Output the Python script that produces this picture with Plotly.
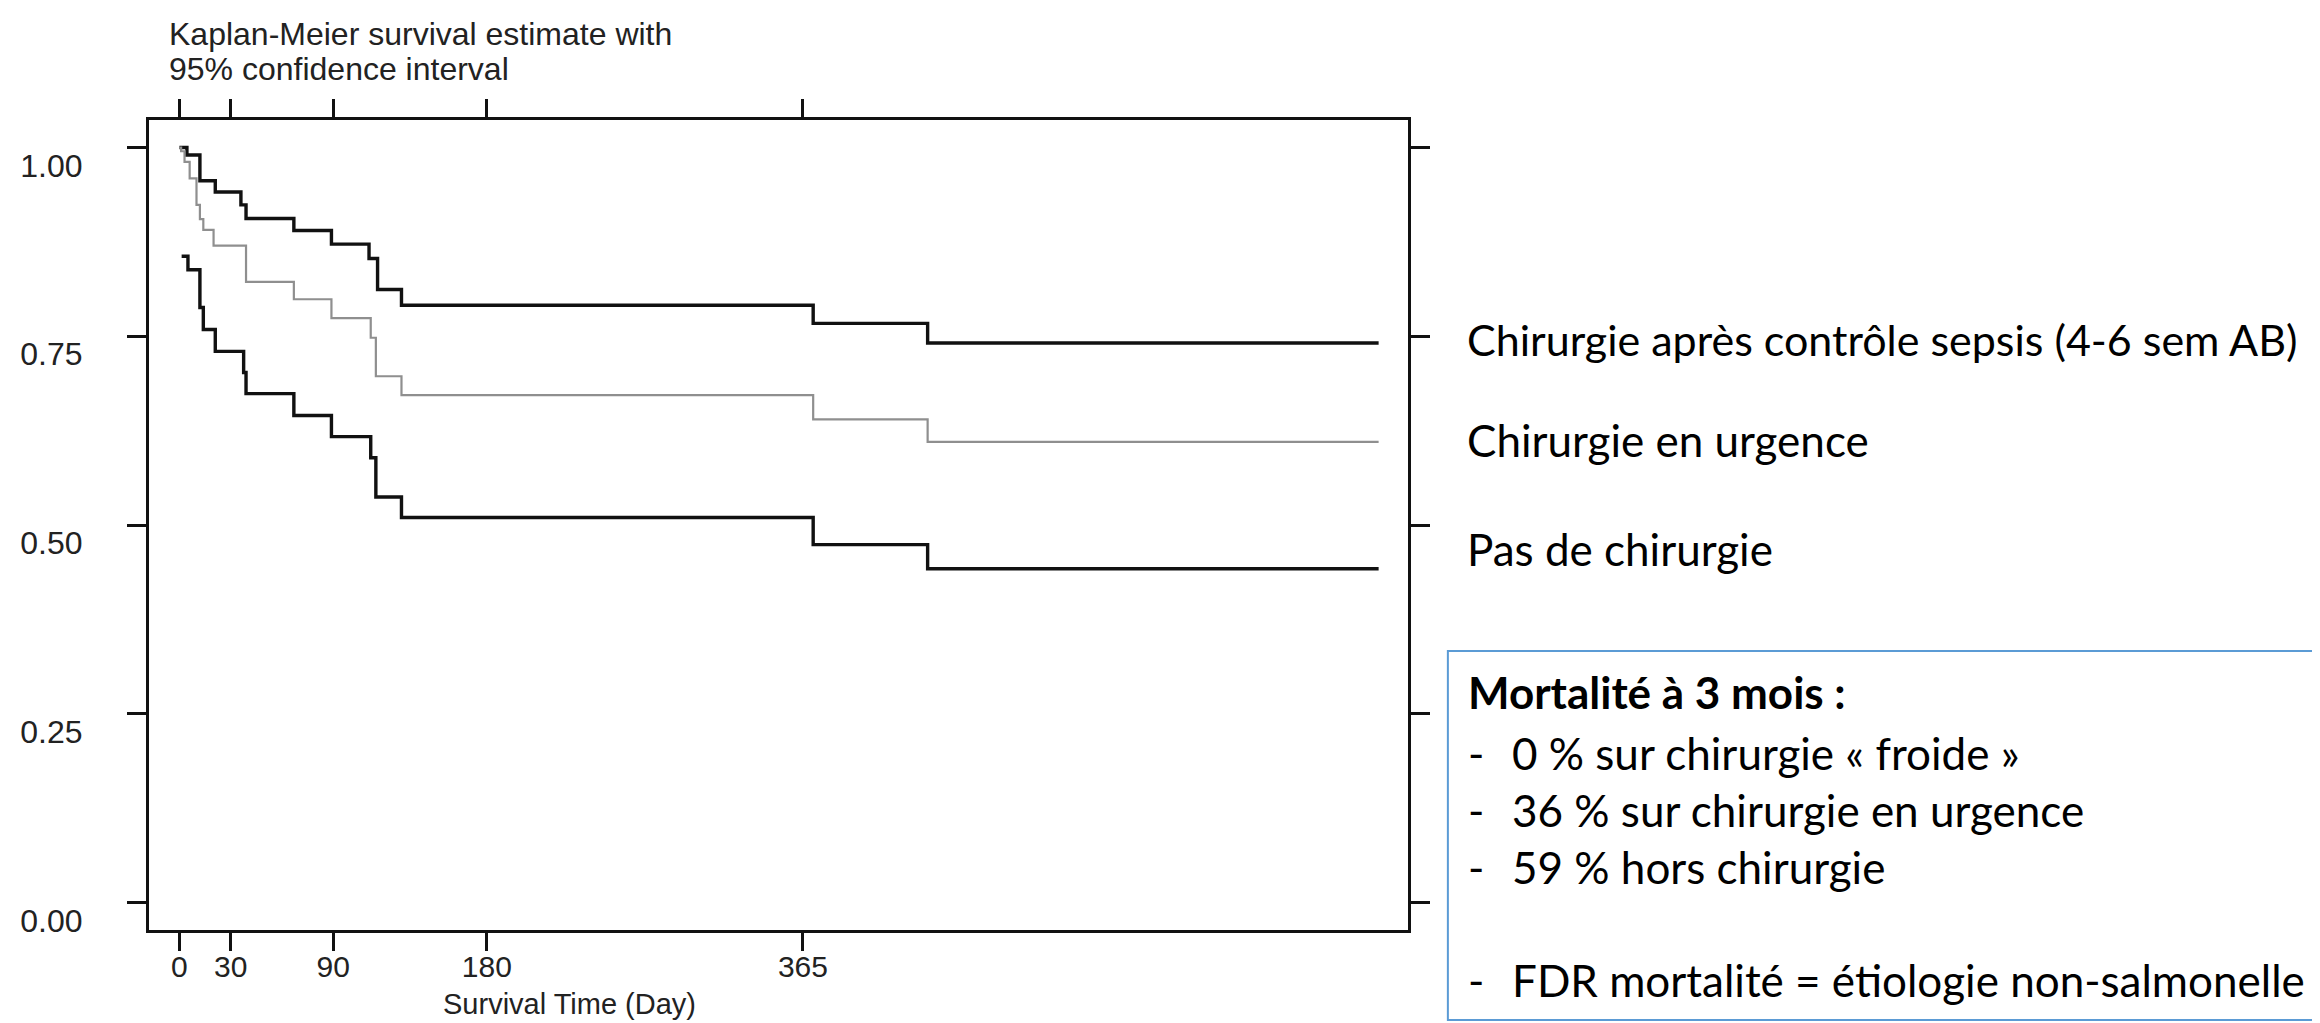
import plotly.graph_objects as go

# ---------------- data ----------------
upper_days = [0, 4.4, 12, 21, 36, 39, 67, 89, 111, 116, 130, 371, 438, 702]
upper_surv = [1.000, 0.990, 0.956, 0.941, 0.924, 0.906, 0.890, 0.872, 0.853, 0.812, 0.791, 0.767, 0.741, 0.741]

mid_days = [0, 1, 3, 6, 10, 12, 14, 20, 39, 67, 89, 112, 115, 130, 371, 438, 702]
mid_surv = [1.000, 0.995, 0.981, 0.959, 0.924, 0.905, 0.891, 0.870, 0.822, 0.799, 0.774, 0.748, 0.697, 0.672, 0.640, 0.610, 0.610]

low_days = [1.3, 5, 12, 14, 21, 37.6, 39, 67, 89, 112, 115, 130, 371, 438, 702]
low_surv = [0.856, 0.838, 0.788, 0.759, 0.730, 0.702, 0.674, 0.645, 0.617, 0.589, 0.537, 0.510, 0.474, 0.442, 0.442]

x_ticks = [0, 30, 90, 180, 365]
y_ticks = [0.00, 0.25, 0.50, 0.75, 1.00]

title_lines = ["Kaplan-Meier survival estimate with", "95% confidence interval"]
x_title = "Survival Time (Day)"
group_labels = ["Chirurgie après contrôle sepsis (4-6 sem AB)", "Chirurgie en urgence", "Pas de chirurgie"]
box_title = "Mortalité à 3 mois :"
box_items = ["0 % sur chirurgie « froide »", "36 % sur chirurgie en urgence", "59 % hors chirurgie", "", "FDR mortalité = étiologie non-salmonelle"]

# ---------------- layout geometry (pixels) ----------------
W, H = 2320, 1023
L, R, T, B = 137, 1400, 112, 922


def px(x):
    return (x - L) / (R - L)


def py(y):
    return (B - y) / (B - T)


fig = go.Figure()
fig.add_trace(go.Scatter(x=upper_days, y=upper_surv, mode="lines", line_shape="hv",
                         line=dict(color="#111111", width=3.4), showlegend=False, hoverinfo="skip"))
fig.add_trace(go.Scatter(x=mid_days, y=mid_surv, mode="lines", line_shape="hv",
                         line=dict(color="#8f8f8f", width=2.2), showlegend=False, hoverinfo="skip"))
fig.add_trace(go.Scatter(x=low_days, y=low_surv, mode="lines", line_shape="hv",
                         line=dict(color="#111111", width=3.4), showlegend=False, hoverinfo="skip"))

axis_font = dict(family="Liberation Sans, Arial, sans-serif", size=32, color="#222222")
xtick_font = dict(family="Liberation Sans, Arial, sans-serif", size=30, color="#222222")

fig.update_xaxes(range=[-17.8, 719.2], tickvals=x_ticks, ticktext=[str(v) for v in x_ticks],
                 showgrid=False, zeroline=False, showline=True, linewidth=3, linecolor="#111111",
                 mirror="ticks", ticks="outside", ticklen=18, tickwidth=3, tickcolor="#111111",
                 tickfont=xtick_font, ticklabelstandoff=-10)
fig.update_yaxes(range=[-0.0364, 1.0364], tickvals=y_ticks, ticktext=[f"{v:.2f}" for v in y_ticks],
                 showgrid=False, zeroline=False, showline=True, linewidth=3, linecolor="#111111",
                 mirror="ticks", ticks="outside", ticklen=19, tickwidth=3, tickcolor="#111111",
                 tickfont=axis_font, ticklabelstandoff=38, ticklabelshift=18)

annotations = []
# title lines
for txt, yc in zip(title_lines, [26, 61]):
    annotations.append(dict(text=txt, xref="paper", yref="paper", x=px(155), y=py(yc),
                            xanchor="left", yanchor="middle", showarrow=False, font=axis_font))
# x axis title
annotations.append(dict(text=x_title, xref="paper", yref="paper", x=px(430), y=py(996),
                        xanchor="left", yanchor="middle", showarrow=False,
                        font=dict(axis_font, size=29)))

label_sizes = [43, 44, 44]
for txt, yc, sz in zip(group_labels, [331, 432, 541], label_sizes):
    annotations.append(dict(text=txt, xref="paper", yref="paper", x=px(1457), y=py(yc),
                            xanchor="left", yanchor="middle", showarrow=False,
                            font=dict(family="Lato, Carlito, sans-serif", size=sz, color="#000000")))

box_font = dict(family="Lato, Carlito, sans-serif", size=44, color="#000000")
annotations.append(dict(text="<b>" + box_title + "</b>", xref="paper", yref="paper", x=px(1458), y=py(684),
                        xanchor="left", yanchor="middle", showarrow=False, font=box_font))
for txt, yc in zip(box_items, [745, 802, 859, 916, 972]):
    if not txt:
        continue
    annotations.append(dict(text="-", xref="paper", yref="paper", x=px(1458), y=py(yc),
                            xanchor="left", yanchor="middle", showarrow=False, font=box_font))
    annotations.append(dict(text=txt, xref="paper", yref="paper", x=px(1502), y=py(yc),
                            xanchor="left", yanchor="middle", showarrow=False, font=box_font))

fig.add_shape(type="rect", xref="paper", yref="paper", x0=px(1440), x1=px(2330), y0=py(1012), y1=py(643),
              line=dict(color="#5b9bd5", width=2), fillcolor="rgba(0,0,0,0)")

fig.update_layout(width=W, height=H, margin=dict(l=L, r=W - R, t=T, b=H - B),
                  paper_bgcolor="white", plot_bgcolor="white", annotations=annotations)

fig.write_html("out.html")
